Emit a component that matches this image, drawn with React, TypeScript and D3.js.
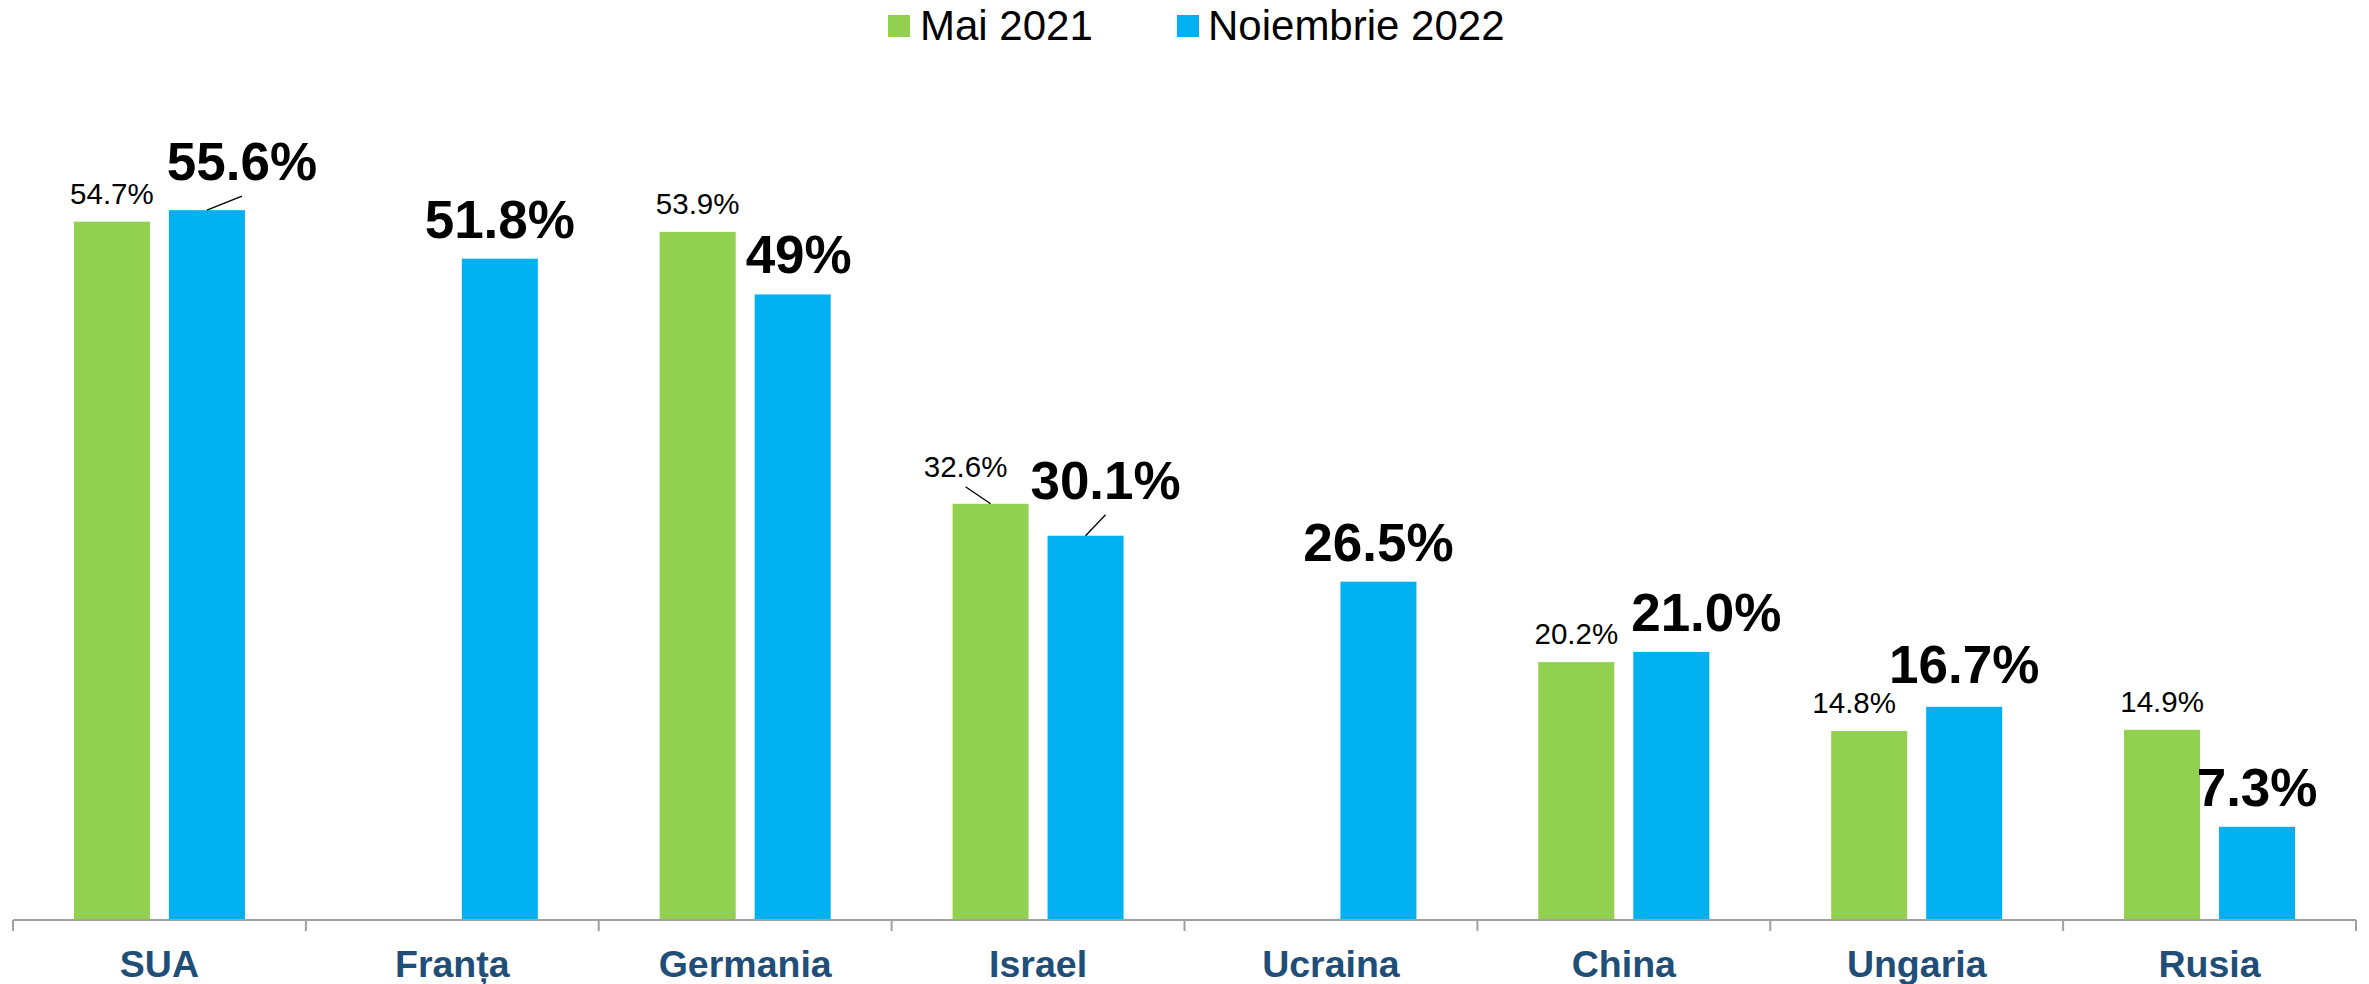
import React from "react";
import * as d3 from "d3";

// Countries on the category axis
const countries = ["SUA", "Franța", "Germania", "Israel", "Ucraina", "China", "Ungaria", "Rusia"];

// Series values, in percent (null = no survey value)
const mai2021: (number | null)[] = [54.7, null, 53.9, 32.6, null, 20.2, 14.8, 14.9];
const noiembrie2022: (number | null)[] = [55.6, 51.8, 49.0, 30.1, 26.5, 21.0, 16.7, 7.3];

// Label text as printed on each bar
const maiLabels = ["54.7%", "", "53.9%", "32.6%", "", "20.2%", "14.8%", "14.9%"];
const noiLabels = ["55.6%", "51.8%", "49%", "30.1%", "26.5%", "21.0%", "16.7%", "7.3%"];

const seriesNames = ["Mai 2021", "Noiembrie 2022"];
const seriesColors = ["#92D050", "#00B0F0"];

// Manual nudges for labels that were moved off their bars (dx, dy in px, leader line flag)
const maiNudge: [number, number, boolean][] = [
  [0, 0, false], [0, 0, false], [0, 0, false], [-25, -9, true],
  [0, 0, false], [0, 0, false], [-15, 0, false], [0, 0, false],
];
const noiNudge: [number, number, boolean][] = [
  [35, -9, true], [0, 0, false], [6, 0, false], [20, -16, true],
  [0, 0, false], [35, 0, false], [0, -3, false], [0, 0, false],
];

const W = 2369;
const H = 984;
const FONT = "'Liberation Sans', Arial, Helvetica, sans-serif";

export default function App() {
  const axisY = 920;
  const x0 = d3.scaleBand<string>().domain(countries).range([13, 2356]).paddingInner(0).paddingOuter(0);
  const groupW = 171;
  const x1 = d3.scaleBand<number>().domain([0, 1]).range([0, groupW]).paddingInner(0.2).paddingOuter(0);
  const y = d3.scaleLinear().domain([0, 60]).range([axisY, axisY - 766]);

  const series = [mai2021, noiembrie2022];
  const labels = [maiLabels, noiLabels];
  const nudges = [maiNudge, noiNudge];

  const bars: JSX.Element[] = [];
  const texts: JSX.Element[] = [];

  countries.forEach((c, i) => {
    const center = (x0(c) as number) + x0.bandwidth() / 2;
    series.forEach((vals, s) => {
      const v = vals[i];
      if (v == null) return;
      const bx = center - groupW / 2 + (x1(s) as number);
      const bw = x1.bandwidth();
      const top = y(v);
      bars.push(
        <rect key={`b-${s}-${i}`} x={bx} y={top} width={bw} height={axisY - top} fill={seriesColors[s]} />
      );
      const [dx, dy, leader] = nudges[s][i];
      const big = s === 1;
      const lx = bx + bw / 2 + dx;
      const ly = top - (big ? 21 : 18) + dy;
      if (leader) {
        const lineStartY = big ? ly + 16 : ly + 10;
        texts.push(
          <line
            key={`l-${s}-${i}`}
            x1={lx}
            y1={lineStartY}
            x2={bx + bw / 2}
            y2={top}
            stroke="#000"
            strokeWidth={1.3}
          />
        );
      }
      texts.push(
        <text
          key={`t-${s}-${i}`}
          x={lx}
          y={ly}
          textAnchor="middle"
          fontFamily={FONT}
          fontSize={big ? 53 : 29.5}
          fontWeight={big ? 700 : 400}
          fill="#000"
        >
          {labels[s][i]}
        </text>
      );
    });
  });

  const boundaries = [...countries.map((c) => x0(c) as number), x0.range()[1]];

  return (
    <svg
      width={W}
      height={H}
      style={{ position: "absolute", left: 0, top: 0, background: "#fff" }}
      xmlns="http://www.w3.org/2000/svg"
    >
      <rect x={0} y={0} width={W} height={H} fill="#fff" />
      {/* legend */}
      <g fontFamily={FONT} fontSize={42} fill="#000">
        <rect x={888} y={15} width={22} height={22} fill={seriesColors[0]} />
        <text x={920} y={40}>{seriesNames[0]}</text>
        <rect x={1177} y={15} width={22} height={22} fill={seriesColors[1]} />
        <text x={1208} y={40}>{seriesNames[1]}</text>
      </g>
      {bars}
      {/* category axis */}
      <line x1={x0.range()[0]} x2={x0.range()[1]} y1={axisY} y2={axisY} stroke="#a0a0a0" strokeWidth={2} />
      {boundaries.map((bx, i) => (
        <line key={`tk-${i}`} x1={bx} x2={bx} y1={axisY} y2={axisY + 11} stroke="#a0a0a0" strokeWidth={2} />
      ))}
      {countries.map((c) => (
        <text
          key={`c-${c}`}
          x={(x0(c) as number) + x0.bandwidth() / 2}
          y={977}
          textAnchor="middle"
          fontFamily={FONT}
          fontSize={37.5}
          fontWeight={700}
          fill="#1F4E79"
        >
          {c}
        </text>
      ))}
      {texts}
    </svg>
  );
}
